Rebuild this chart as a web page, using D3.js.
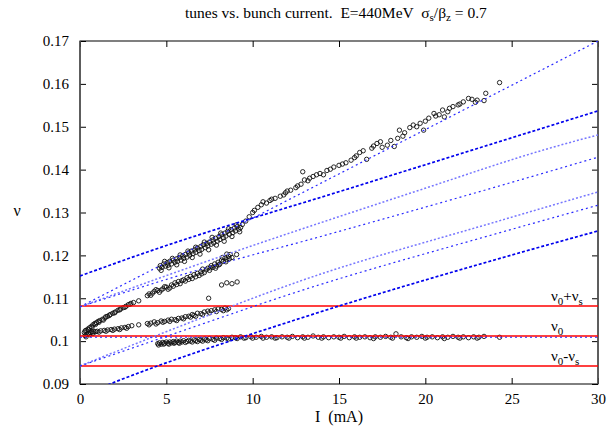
<!DOCTYPE html>
<html><head><meta charset="utf-8">
<script src="https://cdn.jsdelivr.net/npm/d3@7"></script>
<style>
html,body{margin:0;padding:0;background:#fff;}
svg{display:block;}
svg text{font-family:"Liberation Serif","Times New Roman",Times,"DejaVu Serif",serif;white-space:pre;}
</style></head><body>
<svg id="chart" width="613" height="429"></svg>
<script>
// ---------- data ----------
const xTicks = [0, 5, 10, 15, 20, 25, 30];
const yTicks = [0.09, 0.1, 0.11, 0.12, 0.13, 0.14, 0.15, 0.16, 0.17];
const yTickLabels = ["0.09", "0.1", "0.11", "0.12", "0.13", "0.14", "0.15", "0.16", "0.17"];

// reference tunes
const nu0 = 0.1012, nuS = 0.0070;
const refLines = [
  {value: nu0 + nuS, label: ["ν", "0", "+ν", "s"]},
  {value: nu0,       label: ["ν", "0"]},
  {value: nu0 - nuS, label: ["ν", "0", "-ν", "s"]}
];

// model curves: [I (mA), nu]
const curveSteep = [[0, 0.1080], [30, 0.1700]];
const curveA = [[0, 0.1152], [4.05, 0.1210], [15.6, 0.1356], [30, 0.1537]];
const curveB = [[0, 0.1080], [5.5, 0.1160], [19.5, 0.1350], [27.2, 0.1450], [30, 0.1481]];
const curveC = [[0, 0.1080], [5.5, 0.1150], [14.48, 0.1250], [23, 0.1347], [30, 0.1429]];
const curveD = [[0, 0.0942], [5.5, 0.1030], [12.74, 0.1140], [24.32, 0.1281], [30, 0.1348]];
const curveE = [[0, 0.0942], [5.5, 0.1018], [12.74, 0.1117], [24.32, 0.1253], [30, 0.1317]];
const curveF = [[0, 0.0872], [2.3, 0.0909], [12.74, 0.1053], [24.32, 0.1193], [30, 0.1257]];
const curveH = [[0, 0.1009], [30, 0.1009]];
const curveKinds = ["mid", "heavy", "light", "mid", "light", "mid", "heavy", "mid"];

// measured tunes [I (mA), nu]
const topBranch = [
[4.6,0.1170],[4.65,0.1176],[4.75,0.1172],[4.85,0.1180],[4.95,0.1175],[5.05,0.1183],[5.1,0.1177],[5.2,0.1186],[5.3,0.1180],[5.4,0.1189],
[5.5,0.1184],[5.6,0.1192],[5.65,0.1186],[5.75,0.1195],[5.85,0.1189],[5.95,0.1199],[6.0,0.1193],[6.1,0.1202],[6.2,0.1196],[6.3,0.1206],
[6.35,0.1200],[6.45,0.1210],[6.55,0.1204],[6.65,0.1213],[6.7,0.1207],[6.8,0.1217],[6.9,0.1211],[7.0,0.1221],[7.05,0.1214],[7.15,0.1225],
[7.25,0.1218],[7.35,0.1228],[7.4,0.1222],[7.5,0.1231],[7.6,0.1226],[7.7,0.1236],[7.75,0.1229],[7.85,0.1240],[7.95,0.1233],[8.05,0.1244],
[8.1,0.1237],[8.2,0.1248],[8.3,0.1241],[8.4,0.1252],[8.45,0.1245],[8.55,0.1256],[8.65,0.1249],[8.75,0.1260],[8.85,0.1253],[8.95,0.1264],
[9.0,0.1257],[9.1,0.1267],[9.2,0.1261],[9.3,0.1265],[9.8,0.1290],[10.0,0.1300],[10.3,0.1312],[10.5,0.1318],[10.8,0.1322],[11.0,0.1328],
[11.3,0.1333],[11.6,0.1338],[11.9,0.1346],[12.2,0.1352],[12.5,0.1358],[12.8,0.1366],[12.9,0.1395],[13.0,0.1376],[13.3,0.1380],[13.5,0.1384],
[13.9,0.1391],[14.1,0.1388],[14.3,0.1398],[14.7,0.1406],[15.0,0.1410],[15.4,0.1416],[15.7,0.1422],[16.0,0.1432],[16.4,0.1444],[16.6,0.1424],
[16.9,0.1450],[17.2,0.1461],[17.5,0.1452],[17.8,0.1457],[18.0,0.1468],[18.2,0.1454],[18.4,0.1473],[18.5,0.1492],[18.8,0.1486],[19.1,0.1498],
[19.3,0.1504],[19.7,0.1508],[19.9,0.1492],[20.2,0.1520],[20.5,0.1531],[20.8,0.1528],[21.0,0.1539],[21.1,0.1523],[21.4,0.1543],[21.6,0.1547],
[21.9,0.1551],[22.2,0.1558],[22.5,0.1566],[22.7,0.1564],[23.0,0.1562],[23.4,0.1561],[23.5,0.1578],[24.3,0.1603],
[4.7,0.1165],[4.9,0.1186],[5.15,0.1171],[5.35,0.1193],[5.6,0.1178],[5.8,0.1201],[6.05,0.1186],[6.25,0.1210],[6.5,0.1195],[6.7,0.1219],
[6.95,0.1203],[7.2,0.1231],[7.45,0.1213],[7.65,0.1242],[7.9,0.1224],[8.15,0.1252],[8.35,0.1233],[8.6,0.1262],[8.8,0.1244],[9.05,0.1271],
[9.25,0.1255],[9.4,0.1272],[9.6,0.1280],[10.1,0.1305],[10.6,0.1325],[11.1,0.1331],[11.8,0.1341],[12.0,0.1350],[12.6,0.1362],[13.2,0.1374],
[13.7,0.1388],[14.5,0.1401],[15.2,0.1413],[15.9,0.1428],[16.2,0.1440],[17.0,0.1455],[17.4,0.1465],[18.7,0.1478],[19.5,0.1500],[20.0,0.1513],
[20.6,0.1525],[21.3,0.1535],[22.0,0.1553],[22.9,0.1557]
];
const secondBranch = [
[0.25,0.1020],[0.35,0.1025],[0.45,0.1028],[0.55,0.1031],[0.65,0.1034],[0.75,0.1038],[0.85,0.1041],[0.95,0.1043],[1.05,0.1046],[1.15,0.1048],
[1.3,0.1051],[1.45,0.1054],[1.6,0.1058],[1.75,0.1062],[1.9,0.1065],[2.05,0.1068],[2.2,0.1072],[2.35,0.1075],[2.5,0.1078],[2.65,0.1081],
[2.8,0.1085],[2.95,0.1088],[3.1,0.1090],[3.4,0.1094],[3.9,0.1106],[4.0,0.1110],[4.2,0.1112],[4.3,0.1116],[4.5,0.1118],[4.6,0.1114],
[4.8,0.1122],[5.0,0.1126],[5.1,0.1121],[5.3,0.1131],[5.4,0.1128],[5.5,0.1136],[5.7,0.1139],[5.8,0.1134],[6.0,0.1143],[6.1,0.1140],
[6.2,0.1148],[6.4,0.1151],[6.5,0.1146],[6.6,0.1155],[6.8,0.1158],[6.9,0.1153],[7.0,0.1162],[7.1,0.1168],[7.2,0.1160],[7.4,0.1170],
[7.5,0.1165],[7.6,0.1176],[7.7,0.1172],[7.8,0.1180],[7.9,0.1175],[8.0,0.1184],[8.1,0.1180],[8.2,0.1189],[8.3,0.1186],[8.4,0.1194],
[8.5,0.1190],[8.6,0.1198],[8.7,0.1202],[8.8,0.1195],[8.5,0.1203],[9.07,0.1202],
[0.3,0.1024],[0.5,0.1026],[0.7,0.1032],[0.9,0.1039],[1.1,0.1044],[1.35,0.1049],[1.5,0.1057],[1.7,0.1060],[2.0,0.1066],[2.3,0.1073],
[2.6,0.1079],[2.9,0.1086],[4.1,0.1107],[4.4,0.1120],[4.7,0.1119],[4.9,0.1127],[5.2,0.1124],[5.6,0.1132],[5.9,0.1141],[6.3,0.1144],
[6.7,0.1150],[7.05,0.1157],[7.3,0.1166],[7.55,0.1171],[7.85,0.1170],[8.05,0.1178],[8.25,0.1195],[8.45,0.1185],[8.65,0.1192]
];
const lowerBranch = [
[0.3,0.1013],[0.4,0.1016],[0.5,0.1018],[0.6,0.1020],[0.7,0.1021],[0.8,0.1022],[0.9,0.1022],[1.0,0.1023],[1.2,0.1024],[1.4,0.1025],
[1.6,0.1026],[1.8,0.1027],[2.0,0.1028],[2.2,0.1029],[2.4,0.1031],[2.6,0.1032],[2.8,0.1034],[3.0,0.1036],[3.4,0.1038],[3.9,0.1041],
[4.1,0.1042],[4.3,0.1045],[4.5,0.1043],[4.7,0.1047],[4.9,0.1046],[5.1,0.1049],[5.3,0.1051],[5.5,0.1050],[5.7,0.1053],[5.9,0.1054],
[6.1,0.1057],[6.3,0.1058],[6.5,0.1062],[6.6,0.1060],[6.8,0.1065],[7.0,0.1064],[7.2,0.1068],[7.4,0.1070],[7.6,0.1071],[7.8,0.1073],
[8.0,0.1075],[8.2,0.1074],[8.4,0.1077],[8.6,0.1076],
[0.35,0.1010],[0.55,0.1015],[0.75,0.1018],[1.1,0.1021],[1.5,0.1023],[1.9,0.1025],[2.3,0.1027],[2.7,0.1030],[4.0,0.1038],[4.4,0.1040],
[4.8,0.1044],[5.2,0.1046],[5.6,0.1048],[6.0,0.1052],[6.4,0.1056],[6.7,0.1058],[7.1,0.1062],[7.5,0.1066],[7.9,0.1069],[8.3,0.1071],[8.5,0.1073]
];
const strayPoints = [[7.45,0.1100],[8.2,0.1131],[8.5,0.1136],[8.8,0.1134],[9.1,0.1138]];
const bottomBranch = [
[4.5,0.0994],[4.6,0.0996],[4.7,0.0993],[4.8,0.0997],[4.9,0.0995],[5.0,0.0998],[5.1,0.0995],[5.2,0.0998],[5.3,0.0996],[5.4,0.0999],
[5.5,0.0997],[5.6,0.1000],[5.7,0.0997],[5.8,0.1000],[5.9,0.0998],[6.0,0.1001],[6.2,0.0999],[6.3,0.1002],[6.4,0.1000],[6.6,0.1003],
[6.7,0.1001],[6.9,0.1004],[7.0,0.1002],[7.2,0.1005],[7.3,0.1003],[7.5,0.1006],[7.7,0.1004],[7.9,0.1007],[8.1,0.1006],[8.3,0.1008],
[8.5,0.1007],[8.8,0.1009],[9.0,0.1008],[9.3,0.1010],[9.6,0.1008],[9.9,0.1010],[10.2,0.1009],[10.5,0.1011],[10.8,0.1009],[11.1,0.1010],
[11.4,0.1008],[11.7,0.1010],[12.0,0.1009],[12.3,0.1011],[12.6,0.1008],[12.9,0.1010],[13.2,0.1009],[13.5,0.1012],[13.8,0.1009],[14.1,0.1010],
[14.4,0.1008],[14.7,0.1010],[15.0,0.1009],[15.3,0.1011],[15.6,0.1008],[15.9,0.1010],[16.2,0.1009],[16.5,0.1010],[16.8,0.1008],[17.1,0.1010],
[17.4,0.1009],[17.7,0.1011],[18.0,0.1009],[18.3,0.1017],[18.6,0.1010],[18.9,0.1008],[19.2,0.1010],[19.5,0.1009],[19.8,0.1011],[20.1,0.1009],
[20.4,0.1010],[20.7,0.1008],[21.0,0.1010],[21.3,0.1009],[21.6,0.1011],[21.9,0.1009],[22.2,0.1010],[22.5,0.1008],[22.8,0.1010],[23.1,0.1009],
[23.4,0.1011],[24.3,0.1009],
[4.55,0.0991],[4.85,0.0993],[5.15,0.0993],[5.45,0.0995],[5.75,0.0995],[6.1,0.0997],[6.5,0.0998],[6.8,0.0999],[7.1,0.1000],[7.4,0.1001],
[7.8,0.1002],[8.2,0.1004],[8.6,0.1005],[9.1,0.1006],[9.5,0.1007],[10.0,0.1007],[10.6,0.1007],[11.3,0.1007],[12.1,0.1007],[13.0,0.1007],
[14.0,0.1007],[15.1,0.1007],[16.0,0.1007],[17.0,0.1006],[18.1,0.1007],[19.0,0.1006],[20.0,0.1007],[21.1,0.1006],[22.0,0.1007],[23.0,0.1007]
];

// ---------- drawing ----------
const FONT = "Liberation Serif, Times New Roman, Times, serif";
const svg = d3.select("#chart");
const pL = 80, pR = 598, pT = 41, pB = 384;
const x = d3.scaleLinear().domain([0, 30]).range([pL, pR]);
const y = d3.scaleLinear().domain([0.09, 0.17]).range([pB, pT]);

svg.append("defs").append("clipPath").attr("id", "plotclip")
  .append("rect").attr("x", pL).attr("y", pT).attr("width", pR - pL).attr("height", pB - pT);

// title
const title = svg.append("text").attr("x", 185).attr("y", 18).attr("font-size", 15.5)
  .attr("font-family", FONT).attr("fill", "#000");
title.append("tspan").text("tunes vs. bunch current.  E=440MeV  σ");
title.append("tspan").attr("dy", 3).attr("font-size", 11).text("s");
title.append("tspan").attr("dy", -3).text("/β");
title.append("tspan").attr("dy", 3).attr("font-size", 11).text("z");
title.append("tspan").attr("dy", -3).text(" = 0.7");

// axes
const fmt = d => yTickLabels[yTicks.indexOf(d)];
const axB = svg.append("g").attr("transform", `translate(0,${pB})`)
  .call(d3.axisBottom(x).tickValues(xTicks).tickSize(-6).tickPadding(9).tickFormat(d3.format("d")));
const axT = svg.append("g").attr("transform", `translate(0,${pT})`)
  .call(d3.axisTop(x).tickValues(xTicks).tickSize(-6).tickFormat(""));
const axL = svg.append("g").attr("transform", `translate(${pL},0)`)
  .call(d3.axisLeft(y).tickValues(yTicks).tickSize(-6).tickPadding(11).tickFormat(fmt));
const axR = svg.append("g").attr("transform", `translate(${pR},0)`)
  .call(d3.axisRight(y).tickValues(yTicks).tickSize(-6).tickFormat(""));
[axB, axT, axL, axR].forEach(g => {
  g.attr("font-family", FONT);
  g.select(".domain").remove();
  g.selectAll("line").attr("stroke", "#000").attr("stroke-width", 1);
  g.selectAll("text").attr("font-family", FONT).attr("font-size", 15).attr("fill", "#000");
});
// frame
svg.append("rect").attr("x", pL).attr("y", pT).attr("width", pR - pL).attr("height", pB - pT)
  .attr("fill", "none").attr("stroke", "#000").attr("stroke-width", 1);
[pL, pR].forEach(px => svg.append("line").attr("x1", px).attr("x2", px).attr("y1", pT).attr("y2", pB)
  .attr("stroke", "#555").attr("stroke-width", 1.6));

// axis labels
svg.append("text").attr("x", 17).attr("y", 216).attr("text-anchor", "middle")
  .attr("font-family", FONT).attr("font-size", 16).text("ν");
svg.append("text").attr("x", 339).attr("y", 422).attr("text-anchor", "middle")
  .attr("font-family", FONT).attr("font-size", 16).text("I  (mA)");

const plot = svg.append("g").attr("clip-path", "url(#plotclip)");

// data points
const allPts = [].concat(topBranch, secondBranch, lowerBranch, strayPoints, bottomBranch);
plot.append("g").selectAll("circle").data(allPts).join("circle")
  .attr("cx", d => x(d[0])).attr("cy", d => y(d[1])).attr("r", 2.2)
  .attr("fill", "none").attr("stroke", "#111").attr("stroke-width", 0.9);

// reference lines (red)
plot.append("g").selectAll("line").data(refLines).join("line")
  .attr("x1", x(0)).attr("x2", x(30)).attr("y1", d => y(d.value)).attr("y2", d => y(d.value))
  .attr("stroke", "#ff0000").attr("stroke-width", 1.4);

// model curves (blue)
const style = {
  heavy: {c: "#0000ee", w: 1.7, d: "3,2"},
  mid:   {c: "#2a2aff", w: 1.2, d: "2,3"},
  light: {c: "#7777ff", w: 1.5, d: "2,2"}
};
const curves = [curveSteep, curveA, curveB, curveC, curveD, curveE, curveF, curveH];
const lineGen = d3.line().x(d => x(d[0])).y(d => y(d[1])).curve(d3.curveMonotoneX);
plot.append("g").selectAll("path").data(curves).join("path")
  .attr("d", lineGen).attr("fill", "none")
  .attr("stroke", (d, i) => style[curveKinds[i]].c)
  .attr("stroke-width", (d, i) => style[curveKinds[i]].w)
  .attr("stroke-dasharray", (d, i) => style[curveKinds[i]].d);

// labels for reference lines
const lbl = svg.append("g");
refLines.forEach(r => {
  const t = lbl.append("text").attr("x", 551).attr("y", y(r.value) - 5)
    .attr("font-family", FONT).attr("font-size", 15).attr("fill", "#000");
  r.label.forEach((part, i) => {
    if (i % 2 === 0) t.append("tspan").attr("dy", i === 0 ? 0 : -4).attr("font-size", 15).text(part);
    else t.append("tspan").attr("dy", 4).attr("font-size", 11).text(part);
  });
});
</script>
</body></html>
